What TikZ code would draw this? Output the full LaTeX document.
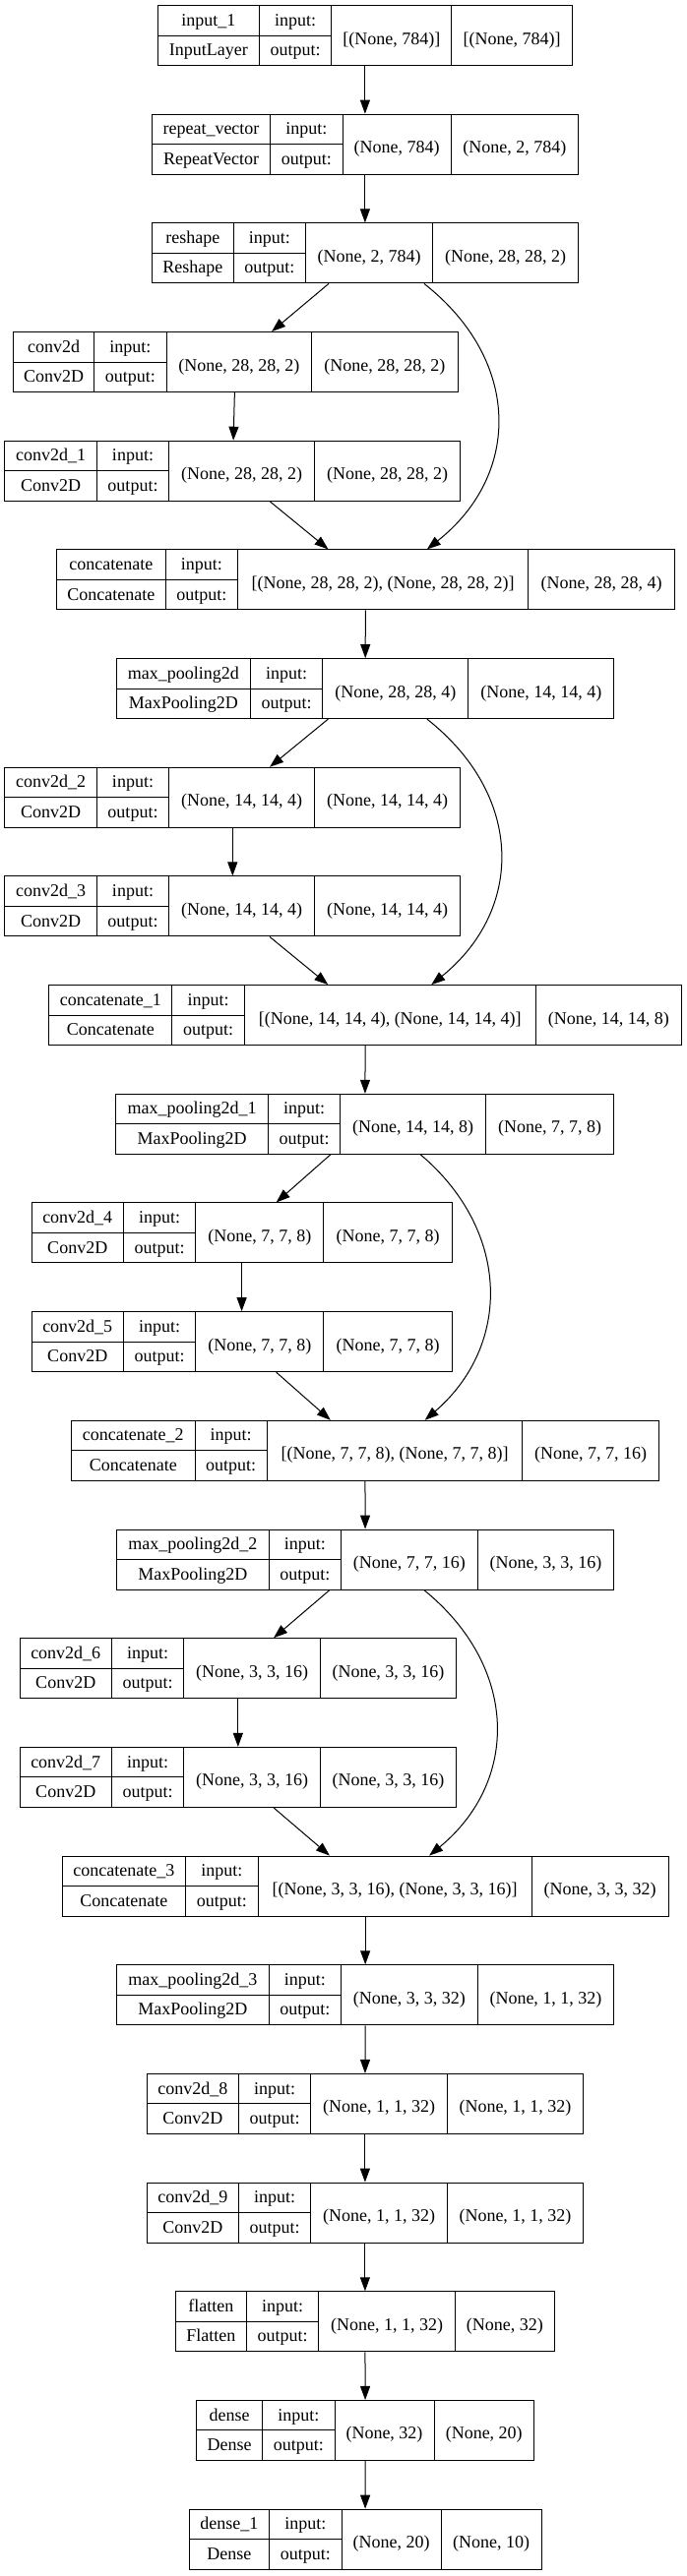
\documentclass[tikz,border=0pt]{standalone}
\usepackage{fontspec}
\setmainfont{Liberation Serif}
\usetikzlibrary{arrows.meta}
\tikzset{
  rec/.style={draw, line width=1pt, inner sep=0pt, minimum height=61pt},
  sep/.style={line width=1pt},
  txt/.style={anchor=base, inner sep=0pt, font=\fontsize{18}{22}\selectfont},
  flow/.style={line width=1pt, -{Triangle[length=14pt,width=10pt]}}
}
% one layer record: name, row, x of left / name-port / in-out / right borders, layer, class
\newcommand{\layer}[8]{%
  \pgfmathsetmacro\ly{36+110.68*#2}%
  \pgfmathsetmacro\lx{#4+73.4}%
  \pgfmathsetmacro\lw{#6-#3}%
  \node[rec, minimum width=\lw pt] (#1) at ({(#3+#6)/2},\ly) {};
  \draw[sep] (#4,\ly-30.5) -- (#4,\ly+30.5)
             (\lx,\ly-30.5) -- (\lx,\ly+30.5)
             (#5,\ly-30.5) -- (#5,\ly+30.5)
             (#3,\ly) -- (\lx,\ly);
  \node[txt] (#1-name) at ({(#3+#4)/2},\ly-9.9) {#7};
  \node[txt] (#1-cls) at ({(#3+#4)/2},\ly+20.6) {#8};
  \node[txt] (#1-pin) at ({(#4+\lx)/2},\ly-9.9) {input:};
  \node[txt] (#1-pout) at ({(#4+\lx)/2},\ly+20.6) {output:};
  \coordinate (#1-in) at ({(\lx+#5)/2},\ly+9);
  \coordinate (#1-out) at ({(#5+#6)/2},\ly+9);
}
\newcommand{\layershapes}[3]{%
  \node[txt] (#1-ishp) at (#1-in) {#2};
  \node[txt] (#1-oshp) at (#1-out) {#3};
}

\begin{document}
\begin{tikzpicture}[x=1pt,y=-1pt]
\useasboundingbox (0,0) rectangle (698,2619);

% input part
\layer{in1}{0}{160.2}{263.4}{458.8}{581.6}{input\_1}{InputLayer}
\layershapes{in1}{[(None, 784)]}{[(None, 784)]}
\layer{rep}{1}{154.4}{274.6}{458.4}{587.4}{repeat\_vector}{RepeatVector}
\layershapes{rep}{(None, 784)}{(None, 2, 784)}
\layer{resh}{2}{154.4}{237.2}{439.7}{587.4}{reshape}{Reshape}
\layershapes{resh}{(None, 2, 784)}{(None, 28, 28, 2)}

% block 1
\layer{cv0}{3}{13.4}{95.7}{316.8}{465.0}{conv2d}{Conv2D}
\layershapes{cv0}{(None, 28, 28, 2)}{(None, 28, 28, 2)}
\layer{cv1}{4}{4.9}{98.3}{319.5}{467.7}{conv2d\_1}{Conv2D}
\layershapes{cv1}{(None, 28, 28, 2)}{(None, 28, 28, 2)}
\layer{cat0}{5}{57.4}{168.2}{536.7}{685.3}{concatenate}{Concatenate}
\layershapes{cat0}{[(None, 28, 28, 2), (None, 28, 28, 2)]}{(None, 28, 28, 4)}
\layer{mp0}{6}{118.4}{254.5}{475.7}{623.9}{max\_pooling2d}{MaxPooling2D}
\layershapes{mp0}{(None, 28, 28, 4)}{(None, 14, 14, 4)}

% block 2
\layer{cv2}{7}{4.9}{98.3}{319.5}{467.7}{conv2d\_2}{Conv2D}
\layershapes{cv2}{(None, 14, 14, 4)}{(None, 14, 14, 4)}
\layer{cv3}{8}{4.9}{98.3}{319.5}{467.7}{conv2d\_3}{Conv2D}
\layershapes{cv3}{(None, 14, 14, 4)}{(None, 14, 14, 4)}
\layer{cat1}{9}{49.8}{174.9}{544.2}{692.4}{concatenate\_1}{Concatenate}
\layershapes{cat1}{[(None, 14, 14, 4), (None, 14, 14, 4)]}{(None, 14, 14, 8)}
\layer{mp1}{10}{117.9}{272.3}{493.5}{623.9}{max\_pooling2d\_1}{MaxPooling2D}
\layershapes{mp1}{(None, 14, 14, 8)}{(None, 7, 7, 8)}

% block 3
\layer{cv4}{11}{32.0}{125.5}{328.9}{459.2}{conv2d\_4}{Conv2D}
\layershapes{cv4}{(None, 7, 7, 8)}{(None, 7, 7, 8)}
\layer{cv5}{12}{32.0}{125.5}{328.9}{459.2}{conv2d\_5}{Conv2D}
\layershapes{cv5}{(None, 7, 7, 8)}{(None, 7, 7, 8)}
\layer{cat2}{13}{72.5}{198.0}{530.9}{669.3}{concatenate\_2}{Concatenate}
\layershapes{cat2}{[(None, 7, 7, 8), (None, 7, 7, 8)]}{(None, 7, 7, 16)}
\layer{mp2}{14}{118.4}{273.2}{485.1}{623.9}{max\_pooling2d\_2}{MaxPooling2D}
\layershapes{mp2}{(None, 7, 7, 16)}{(None, 3, 3, 16)}

% block 4
\layer{cv6}{15}{20.0}{113.5}{325.3}{463.7}{conv2d\_6}{Conv2D}
\layershapes{cv6}{(None, 3, 3, 16)}{(None, 3, 3, 16)}
\layer{cv7}{16}{20.0}{113.5}{325.3}{463.7}{conv2d\_7}{Conv2D}
\layershapes{cv7}{(None, 3, 3, 16)}{(None, 3, 3, 16)}
\layer{cat3}{17}{63.2}{188.7}{540.2}{679.1}{concatenate\_3}{Concatenate}
\layershapes{cat3}{[(None, 3, 3, 16), (None, 3, 3, 16)]}{(None, 3, 3, 32)}
\layer{mp3}{18}{118.4}{273.2}{485.1}{623.9}{max\_pooling2d\_3}{MaxPooling2D}
\layershapes{mp3}{(None, 3, 3, 32)}{(None, 1, 1, 32)}

% head
\layer{cv8}{19}{149.1}{242.5}{454.3}{592.7}{conv2d\_8}{Conv2D}
\layershapes{cv8}{(None, 1, 1, 32)}{(None, 1, 1, 32)}
\layer{cv9}{20}{149.1}{242.5}{454.3}{592.7}{conv2d\_9}{Conv2D}
\layershapes{cv9}{(None, 1, 1, 32)}{(None, 1, 1, 32)}
\layer{flat}{21}{178.4}{250.5}{462.4}{563.4}{flatten}{Flatten}
\layershapes{flat}{(None, 1, 1, 32)}{(None, 32)}
\layer{den}{22}{199.8}{266.6}{441.0}{542.5}{dense}{Dense}
\layershapes{den}{(None, 32)}{(None, 20)}
\layer{den1}{23}{192.2}{273.7}{448.1}{550.0}{dense\_1}{Dense}
\layershapes{den1}{(None, 20)}{(None, 10)}

% straight edges
\draw[flow] (in1) -- (rep);
\draw[flow] (rep) -- (resh);
\draw[flow] (resh) -- (cv0);
\draw[flow] (cv0) -- (cv1);
\draw[flow] (cv1) -- (cat0);
\draw[flow] (cat0) -- (mp0);
\draw[flow] (mp0) -- (cv2);
\draw[flow] (cv2) -- (cv3);
\draw[flow] (cv3) -- (cat1);
\draw[flow] (cat1) -- (mp1);
\draw[flow] (mp1) -- (cv4);
\draw[flow] (cv4) -- (cv5);
\draw[flow] (cv5) -- (cat2);
\draw[flow] (cat2) -- (mp2);
\draw[flow] (mp2) -- (cv6);
\draw[flow] (cv6) -- (cv7);
\draw[flow] (cv7) -- (cat3);
\draw[flow] (cat3) -- (mp3);
\draw[flow] (mp3) -- (cv8);
\draw[flow] (cv8) -- (cv9);
\draw[flow] (cv9) -- (flat);
\draw[flow] (flat) -- (den);
\draw[flow] (den) -- (den1);

% skip edges
\draw[flow] ([xshift=60pt]resh.south) .. controls +(99,78) and +(96,-76) .. ([xshift=62.5pt]cat0.north);
\draw[flow] ([xshift=62.7pt]mp0.south) .. controls +(99,78) and +(94,-76) .. ([xshift=67.2pt]cat1.north);
\draw[flow] ([xshift=56.3pt]mp1.south) .. controls +(92,78) and +(88,-76) .. ([xshift=60.8pt]cat2.north);
\draw[flow] ([xshift=59.6pt]mp2.south) .. controls +(96,78) and +(92,-76) .. ([xshift=65pt]cat3.north);
\end{tikzpicture}
\end{document}
